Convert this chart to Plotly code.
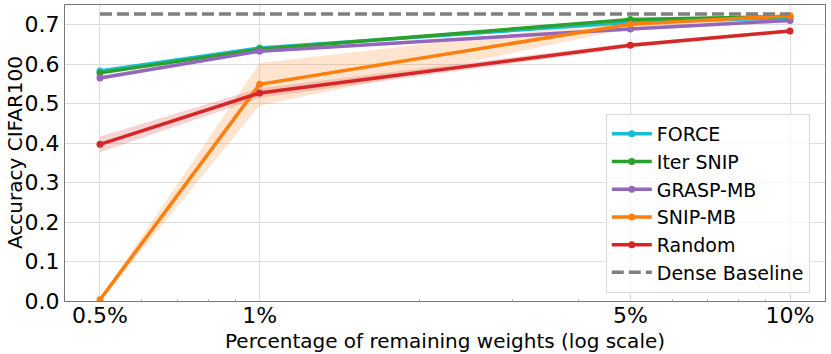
import plotly.graph_objects as go

x_vals = [0.5, 1, 5, 10]
tick_text = ["0.5%", "1%", "5%", "10%"]
minor_vals = [0.6, 0.7, 0.8, 0.9, 2, 3, 4, 6, 7, 8, 9]

force = [0.583, 0.641, 0.706, 0.718]
force_sd = [0.004, 0.003, 0.004, 0.003]
iter_snip = [0.578, 0.638, 0.713, 0.721]
iter_snip_sd = [0.004, 0.003, 0.003, 0.003]
grasp_mb = [0.565, 0.633, 0.689, 0.711]
grasp_mb_sd = [0.005, 0.004, 0.004, 0.004]
snip_mb = [0.003, 0.549, 0.701, 0.723]
snip_mb_sd = [0.004, 0.054, 0.010, 0.004]
random_ = [0.397, 0.527, 0.648, 0.684]
random_sd = [0.020, 0.012, 0.006, 0.004]
dense_baseline = 0.727

series = [
    ("FORCE", force, force_sd, (23, 190, 207)),
    ("Iter SNIP", iter_snip, iter_snip_sd, (44, 160, 44)),
    ("GRASP-MB", grasp_mb, grasp_mb_sd, (148, 103, 189)),
    ("SNIP-MB", snip_mb, snip_mb_sd, (255, 127, 14)),
    ("Random", random_, random_sd, (214, 39, 40)),
]

fig = go.Figure()

for name, ys, sd, c in series:
    upper = [y + s for y, s in zip(ys, sd)]
    lower = [y - s for y, s in zip(ys, sd)]
    fig.add_trace(go.Scatter(x=x_vals, y=upper, mode="lines", line=dict(width=0),
                             showlegend=False, hoverinfo="skip"))
    fig.add_trace(go.Scatter(x=x_vals, y=lower, mode="lines", line=dict(width=0),
                             fill="tonexty", fillcolor=f"rgba({c[0]},{c[1]},{c[2]},0.2)",
                             showlegend=False, hoverinfo="skip"))

for name, ys, sd, c in series:
    col = f"rgb({c[0]},{c[1]},{c[2]})"
    fig.add_trace(go.Scatter(x=x_vals, y=ys, mode="lines+markers", name=name,
                             line=dict(color=col, width=3.5),
                             marker=dict(color=col, size=7)))

fig.add_trace(go.Scatter(x=[x_vals[0], x_vals[-1]], y=[dense_baseline, dense_baseline],
                         mode="lines", name="Dense Baseline",
                         line=dict(color="rgb(127,127,127)", width=3.5, dash="12px,5px")))

axis_font = dict(family="DejaVu Sans", size=22, color="black")
title_font = dict(family="DejaVu Sans", size=20, color="black")

fig.update_layout(
    width=831, height=354,
    margin=dict(l=65, r=6, t=5, b=53),
    paper_bgcolor="white", plot_bgcolor="white",
    font=dict(family="DejaVu Sans", color="black"),
    showlegend=True,
    legend=dict(x=0.98, y=0.027, xanchor="right", yanchor="bottom",
                traceorder="normal",
                bgcolor="rgba(255,255,255,0.8)", bordercolor="#d8d8d8", borderwidth=1,
                font=dict(family="DejaVu Sans", size=19, color="black"),
                itemwidth=40, tracegroupgap=0),
    annotations=[
        dict(text="Percentage of remaining weights (log scale)", xref="paper", yref="paper",
             x=0.5, y=0, yshift=-40, xanchor="center", yanchor="middle",
             showarrow=False, font=title_font),
        dict(text="Accuracy CIFAR100", xref="paper", yref="paper",
             x=0, y=0.5, xshift=-50, xanchor="center", yanchor="middle",
             textangle=-90, showarrow=False, font=title_font),
    ],
)

fig.update_xaxes(
    type="log", range=[-0.367, 1.066], automargin=False,
    tickvals=x_vals, ticktext=tick_text, tickfont=axis_font,
    ticks="", ticklabelstandoff=-5,
    showgrid=True, gridcolor="#dcdcdc", gridwidth=1,
    showline=True, linecolor="#777777", linewidth=1, mirror=True,
    zeroline=False,
    minor=dict(tickvals=minor_vals, ticks="inside", ticklen=2, tickcolor="#bbbbbb", showgrid=False),
)
fig.update_yaxes(
    range=[0, 0.75], dtick=0.1, tick0=0, tickformat=".1f", tickfont=axis_font,
    ticks="", automargin=False,
    showgrid=True, gridcolor="#dcdcdc", gridwidth=1,
    showline=True, linecolor="#777777", linewidth=1, mirror=True,
    zeroline=False,
)

fig.write_html("out.html", config={"displayModeBar": False},
               post_script="document.body.style.margin='0';document.body.style.padding='0';")
